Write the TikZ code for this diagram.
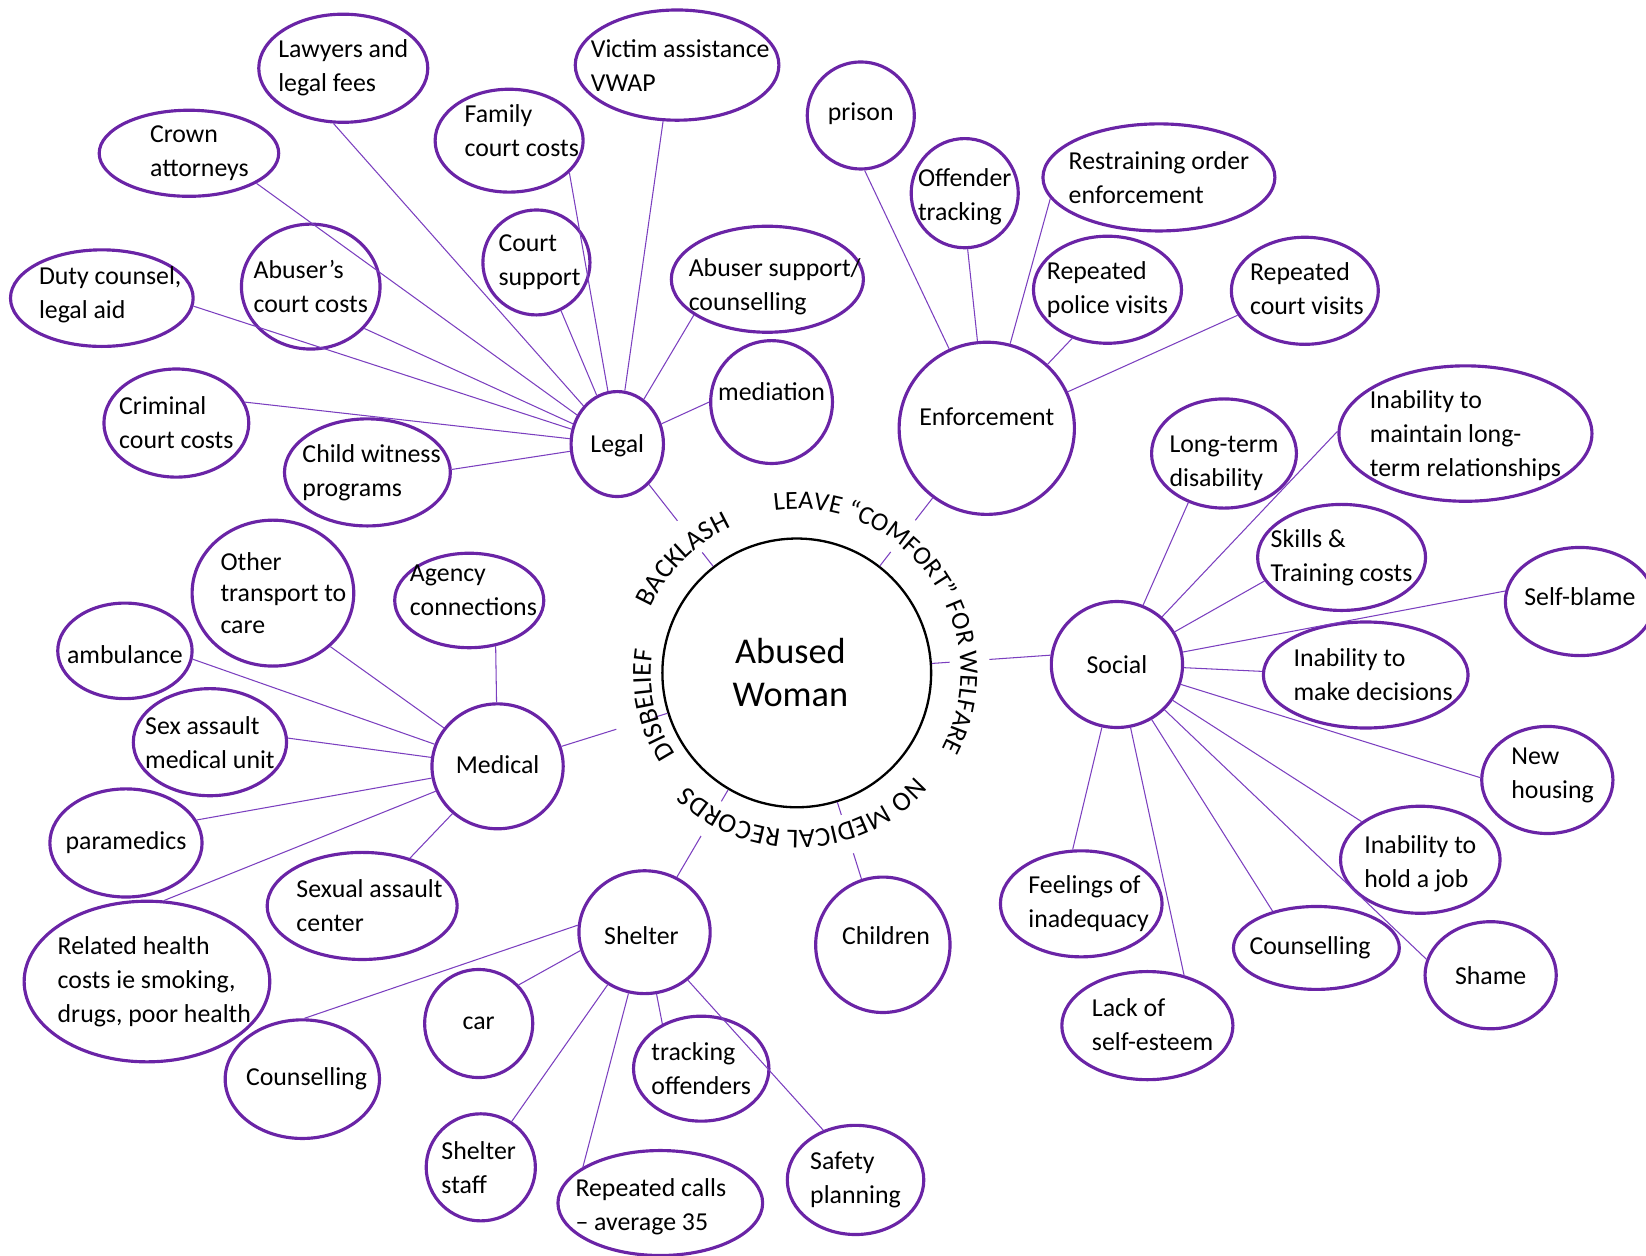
\documentclass[tikz,border=0pt]{standalone}
\usepackage{fontspec}
\setmainfont{Carlito}
\usetikzlibrary{decorations.text,shapes.geometric}
\definecolor{pborder}{HTML}{6A24A6}
\definecolor{pline}{HTML}{7B3FBF}
\newcommand\curvefont{\fontsize{13}{15}\selectfont}
\newcommand\curvefontb{\fontsize{12.4}{15}\selectfont}
\begin{document}
\begin{tikzpicture}[x=0.5pt,y=-0.5pt,
  bub/.style 2 args={ellipse, draw=pborder, line width=1.5pt, minimum width=#1*0.5pt, minimum height=#2*0.5pt, inner sep=0pt},
  txt/.style={align=left, font=\fontsize{12.3}{16.2}\selectfont, inner sep=0pt, text=black},
  con/.style={draw=pline, line width=0.5pt},
  gapband/.style={draw=white, line width=19pt},
  curved/.style={decorate, decoration={text along path, text align=center}}]
\useasboundingbox (0,0) rectangle (1568,1196);

% centre
\node[circle, draw=black, line width=1.1pt, minimum size=128pt, inner sep=0pt,
      label={[align=center, font=\fontsize{17.3}{20.5}\selectfont, xshift=-3pt]center:{Abused\\Woman}}] (aw) at (759,641) {};

% Legal group
\node[bub={161}{103}, label={[txt]center:{Lawyers and\\legal fees}}] (law) at (327,65) {};
\node[bub={194}{105}, label={[txt,xshift=1.5pt]center:{Victim assistance\\VWAP}}] (vic) at (645,62) {};
\node[bub={141}{98}, label={[txt,xshift=6pt,yshift=5pt]center:{Family\\court costs}}] (fam) at (485,134) {};
\node[bub={171}{82}, label={[txt,xshift=5pt]center:{Crown\\attorneys}}] (crown) at (180,146) {};
\node[bub={102}{100}, label={[txt,xshift=1.5pt]center:{Court\\support}}] (csup) at (511,250) {};
\node[bub={183}{101}, label={[txt,xshift=3.5pt,yshift=-3.5pt]center:{Abuser support/\\counselling}}] (absup) at (731,266) {};
\node[bub={174}{92}, label={[txt,xshift=4pt,yshift=1.5pt]center:{Duty counsel,\\legal aid}}] (duty) at (97,284) {};
\node[bub={132}{119}, label={[txt]center:{Abuser’s\\court costs}}] (abcost) at (296,273) {};
\node[bub={116}{117}, label={[txt,yshift=5pt]center:{mediation}}] (med) at (735,383) {};
\node[bub={88}{100}, label={[txt,yshift=-1pt]center:{Legal}}] (legal) at (588,423) {};
\node[bub={138}{103}, label={[txt]center:{Criminal\\court costs}}] (crim) at (168,403) {};
\node[bub={158}{102}, label={[txt,xshift=2pt]center:{Child witness\\programs}}] (child) at (350,450) {};

% Enforcement group
\node[bub={102}{102}, label={[txt,yshift=1pt]center:{prison}}] (prison) at (820,110) {};
\node[bub={102}{104}, label={[txt,yshift=-1.5pt]center:{Offender\\tracking}}] (offtr) at (919,184) {};
\node[bub={221}{102}, label={[txt]center:{Restraining order\\enforcement}}] (restr) at (1104,169) {};
\node[bub={141}{102}, label={[txt]center:{Repeated\\police visits}}] (police) at (1055,276) {};
\node[bub={140}{102}, label={[txt,xshift=1pt,yshift=1pt]center:{Repeated\\court visits}}] (courtv) at (1243,277) {};
\node[bub={167}{164}, label={[txt,yshift=5.5pt]center:{Enforcement}}] (enf) at (940,408) {};

% Social group
\node[bub={138}{104}, label={[txt,yshift=-4.5pt]center:{Long-term\\disability}}] (ltd) at (1166,432) {};
\node[bub={241}{129}, label={[txt,yshift=-1pt]center:{Inability to\\maintain long-\\term relationships}}] (maint) at (1396,413) {};
\node[bub={160}{101}, label={[txt]center:{Skills \&\\Training costs}}] (skills) at (1278,531) {};
\node[bub={142}{103}, label={[txt,yshift=2.5pt]center:{Self-blame}}] (selfb) at (1505,573) {};
\node[bub={125}{120}, label={[txt]center:{Social}}] (social) at (1064,633) {};
\node[bub={195}{101}, label={[txt,xshift=3.5pt]center:{Inability to\\make decisions}}] (decis) at (1301,643) {};
\node[bub={125}{102}, label={[txt,xshift=2.5pt,yshift=2pt]center:{New\\housing}}] (house) at (1474,743) {};
\node[bub={152}{102}, label={[txt,yshift=-2pt]center:{Inability to\\hold a job}}] (job) at (1353,819) {};
\node[bub={154}{101}, label={[txt,xshift=3.5pt]center:{Feelings of\\inadequacy}}] (feel) at (1030,861) {};
\node[bub={158}{79}, label={[txt,xshift=-3pt]center:{Counselling}}] (couns) at (1254,903) {};
\node[bub={125}{102}, label={[txt]center:{Shame}}] (shame) at (1420,929) {};
\node[bub={163}{103}, label={[txt,xshift=2.5pt,yshift=0.5pt]center:{Lack of\\self-esteem}}] (esteem) at (1093,977) {};

% Medical group
\node[bub={154}{139}, label={[txt,xshift=5pt,font=\fontsize{12.3}{15.2}\selectfont]center:{Other\\transport to\\care}}] (othtr) at (260,565) {};
\node[bub={142}{90}, label={[txt,xshift=2pt,yshift=5pt]center:{Agency\\connections}}] (agency) at (447,572) {};
\node[bub={128}{91}, label={[txt,yshift=-2pt]center:{ambulance}}] (amb) at (119,620) {};
\node[bub={146}{102}, label={[txt]center:{Sex assault\\medical unit}}] (samu) at (200,707) {};
\node[bub={125}{119}, label={[txt,yshift=1pt]center:{Medical}}] (medical) at (474,730) {};
\node[bub={145}{103}, label={[txt]center:{paramedics}}] (para) at (120,803) {};
\node[bub={181}{102}, label={[txt,xshift=3.5pt]center:{Sexual assault\\center}}] (sac) at (345,863) {};
\node[bub={234}{153}, label={[txt,xshift=3.5pt]center:{Related health\\costs ie smoking,\\drugs, poor health}}] (rel) at (140,935) {};

% Shelter group
\node[bub={125}{117}, label={[txt,xshift=-1.5pt,yshift=-1.5pt]center:{Shelter}}] (shelter) at (614,888) {};
\node[bub={128}{129}, label={[txt,yshift=4.5pt,xshift=1.5pt]center:{Children}}] (children) at (841,900) {};
\node[bub={103}{103}, label={[txt]center:{car}}] (car) at (456,975) {};
\node[bub={147}{113}, label={[txt,xshift=2pt]center:{Counselling}}] (counsh) at (288,1028) {};
\node[bub={129}{100}, label={[txt]center:{tracking\\offenders}}] (track) at (668,1018) {};
\node[bub={104}{102}, label={[txt,xshift=-1pt]center:{Shelter\\staff}}] (staff) at (458,1112) {};
\node[bub={195}{100}, label={[txt,xshift=-4.5pt,yshift=-2pt]center:{Repeated calls\\– average 35}}] (calls) at (629,1146) {};
\node[bub={130}{104}, label={[txt]center:{Safety\\planning}}] (safety) at (815,1124) {};

% connectors
\draw[con] (law.260) -- (legal);
\draw[con] (vic.256) -- (legal);
\draw[con] (fam.332) -- (legal);
\draw[con] (crown.336) -- (legal);
\draw[con] (csup.297) -- (legal);
\draw[con] (absup.206) -- (legal);
\draw[con] (duty.355) -- (legal);
\draw[con] (abcost.322) -- (legal);
\draw[con] (med.180) -- (legal);
\draw[con] (crim.17) -- (legal);
\draw[con] (child.2) -- (legal);
\draw[con] (legal) -- (aw);

\draw[con] (prison.274) -- (enf);
\draw[con] (offtr.273) -- (enf);
\draw[con] (restr.191) -- (enf);
\draw[con] (police.234) -- (enf);
\draw[con] (courtv.200) -- (enf);
\draw[con] (enf) -- (aw);

\draw[con] (ltd.234) -- (social);
\draw[con] (maint.179) -- (social);
\draw[con] (skills.197) -- (social);
\draw[con] (selfb.172) -- (social);
\draw[con] (decis.178) -- (social);
\draw[con] (house.178) -- (social);
\draw[con] (job.147) -- (social);
\draw[con] (shame.166) -- (social);
\draw[con] (couns.140) -- (social);
\draw[con] (feel.99) -- (social);
\draw[con] (esteem.54) -- (social);
\draw[con] (social.172) -- (aw);

\draw[con] (othtr.317) -- (medical);
\draw[con] (agency.300) -- (medical);
\draw[con] (amb.353) -- (medical);
\draw[con] (samu.3) -- (medical);
\draw[con] (para.18) -- (medical);
\draw[con] (sac.45) -- (medical);
\draw[con] (rel.78) -- (medical);
\draw[con] (medical) -- (aw);

\draw[con] (car.44) -- (shelter.196);
\draw[con] (counsh.88) -- (shelter.174);
\draw[con] (track.131) -- (shelter);
\draw[con] (staff.56) -- (shelter);
\draw[con] (calls.155) -- (shelter);
\draw[con] (safety.123) -- (shelter);
\draw[con] (shelter) -- (aw);
\draw[con] (children.108) -- (aw);

% gaps under the curved texts
\draw[gapband] (aw.center) ++(203:165) arc[start angle=203, end angle=246, radius=165];
\draw[gapband] (aw.center) ++(262:165) arc[start angle=262, end angle=387, radius=165];
\draw[gapband] (aw.center) ++(146:161) arc[start angle=146, end angle=189, radius=161];
\draw[gapband] (aw.center) ++(42:161) arc[start angle=42, end angle=133, radius=161];

% curved texts
\path[curved, decoration={text={|\curvefont|BACKLASH}}] (aw.center) ++(180:152) arc[start angle=180, end angle=270, radius=152];
\path[curved, decoration={text={|\curvefontb|LEAVE “COMFORT” FOR WELFARE}}] (aw.center) ++(245:156) arc[start angle=245, end angle=405, radius=156];
\path[curved, decoration={text={|\curvefont|DISBELIEF}}] (aw.center) ++(120:139) arc[start angle=120, end angle=215, radius=139];
\path[curved, decoration={text={|\curvefont|NO MEDICAL RECORDS}}] (aw.center) ++(30:150) arc[start angle=30, end angle=145, radius=150];
\end{tikzpicture}
\end{document}
